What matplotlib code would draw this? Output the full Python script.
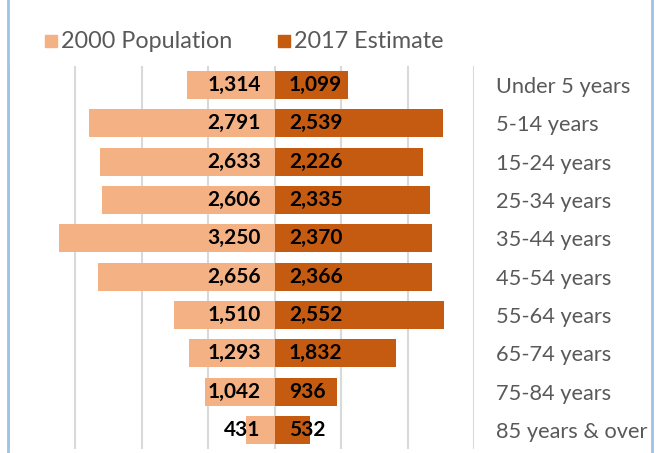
import numpy as np
import matplotlib.pyplot as plt
from matplotlib.patches import Rectangle
from matplotlib.lines import Line2D

plt.rcParams['font.family'] = ['Lato', 'DejaVu Sans']

groups = ["Under 5 years", "5-14 years", "15-24 years", "25-34 years", "35-44 years",
          "45-54 years", "55-64 years", "65-74 years", "75-84 years", "85 years & over"]
pop_2000 = [1314, 2791, 2633, 2606, 3250, 2656, 1510, 1293, 1042, 431]
est_2017 = [1099, 2539, 2226, 2335, 2370, 2366, 2552, 1832, 936, 532]
series_names = ["2000 Population", "2017 Estimate"]

c_light = "#F4B183"
c_dark = "#C55A11"
grey_txt = "#595959"

W, H = 662, 453
fig = plt.figure(figsize=(W / 100, H / 100), dpi=100)

# plot area in pixels: x 9..474, y 66..449
ax = fig.add_axes([9 / W, 1 - 449 / H, (474 - 9) / W, (449 - 66) / H])
y = np.arange(len(groups))
ax.barh(y, [-v for v in pop_2000], height=0.73, color=c_light, zorder=2)
ax.barh(y, est_2017, height=0.73, color=c_dark, zorder=2)

for i in range(len(groups)):
    ax.text(-210, i, f"{pop_2000[i]:,}", ha='right', va='center',
            fontsize=15, fontweight='bold', color='black', zorder=3)
    ax.text(215, i, f"{est_2017[i]:,}", ha='left', va='center',
            fontsize=15, fontweight='bold', color='black', zorder=3)

ax.set_xlim(-4000, 3000)
ax.set_ylim(len(groups) - 0.5, -0.5)
ax.set_xticks(np.arange(-4000, 3001, 1000))
ax.grid(axis='x', color='#D9D9D9', linewidth=1.5, zorder=0)
ax.tick_params(axis='x', length=0, labelbottom=False)
ax.yaxis.tick_right()
ax.set_yticks(y)
ax.set_yticklabels(groups, fontsize=15.7, color=grey_txt)
ax.tick_params(axis='y', length=0, pad=16)
for s in ax.spines.values():
    s.set_visible(False)

# legend
for k, (name, col, x0) in enumerate(zip(series_names, [c_light, c_dark], [45, 278])):
    fig.patches.append(Rectangle((x0 / W, 1 - 47 / H), 12 / W, 12 / H,
                                 transform=fig.transFigure, color=col))
    fig.text((x0 + 16) / W, 1 - 41 / H, name, fontsize=16.8, color=grey_txt,
             ha='left', va='center')

# chart border
for xb in [8, 652]:
    fig.add_artist(Line2D([xb / W, xb / W], [0, 1], color='#9DC3E6', linewidth=2,
                          transform=fig.transFigure))

fig.savefig("out.png", dpi=100)
